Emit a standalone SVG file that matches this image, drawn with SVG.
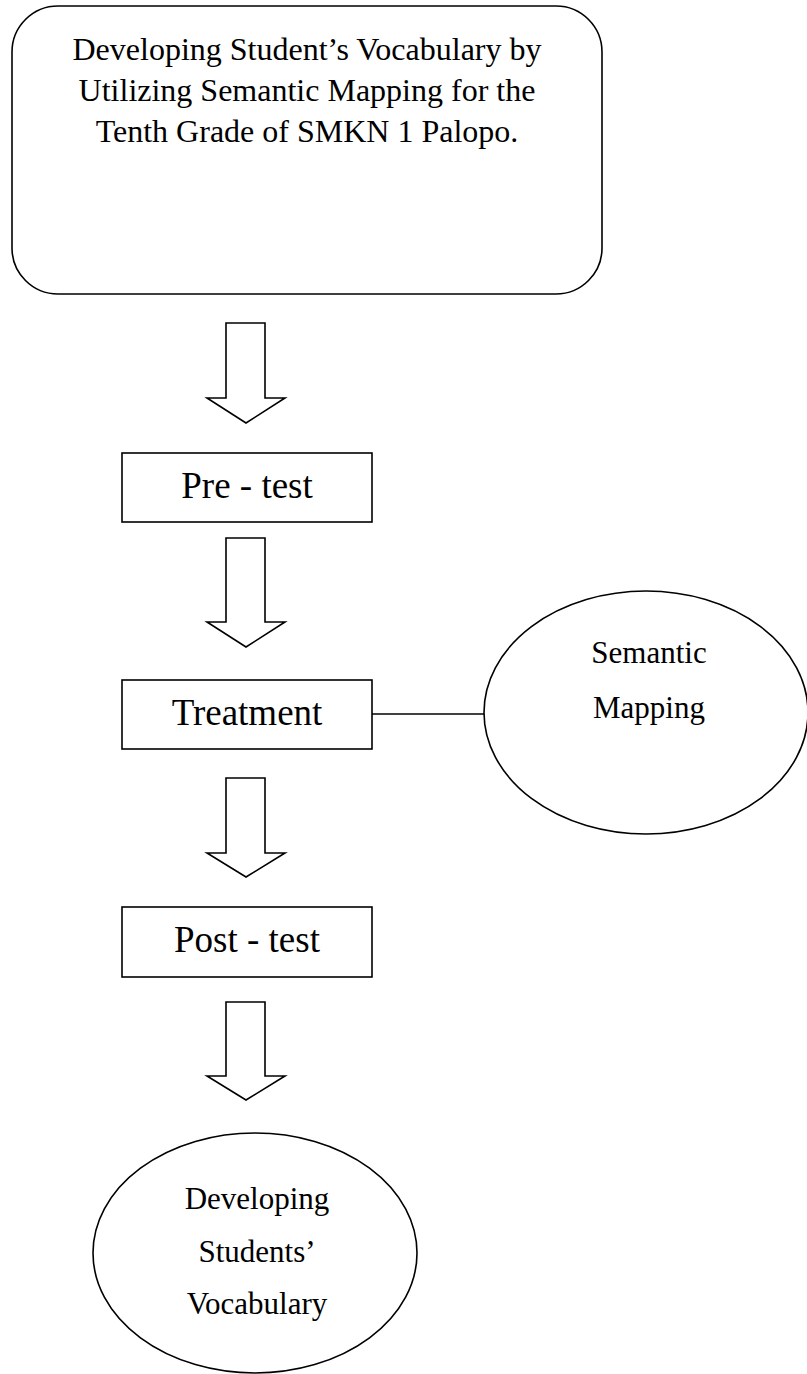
<svg xmlns="http://www.w3.org/2000/svg" width="807" height="1374" viewBox="0 0 807 1374">
  <style>
    .shape { fill: #ffffff; stroke: #000000; stroke-width: 1.6; }
    .arrow { fill: #ffffff; stroke: #000000; stroke-width: 1.6; stroke-linejoin: miter; }
    .link { fill: none; stroke: #000000; stroke-width: 1.6; }
    text { font-family: "Liberation Serif", "Times New Roman", serif; fill: #000000; text-anchor: middle; }
    .title { font-size: 32px; }
    .step { font-size: 37px; }
    .oval { font-size: 31px; }
  </style>
  <rect width="807" height="1374" fill="#ffffff"/>

  <!-- title -->
  <g id="title">
    <rect class="shape" x="12" y="6" width="590" height="288" rx="46" ry="46"/>
    <text class="title" x="307" y="60">Developing Student’s Vocabulary by</text>
    <text class="title" x="307" y="101">Utilizing Semantic Mapping for the</text>
    <text class="title" x="307" y="142">Tenth Grade of SMKN 1 Palopo.</text>
  </g>

  <!-- connectors: block arrows between steps and the side link -->
  <g id="connectors">
    <path class="arrow" d="M226,323 V398 H207 L246,423 L285,398 H265 V323 Z"/>
    <path class="arrow" d="M226,538 V622 H207 L246,647 L285,622 H265 V538 Z"/>
    <path class="arrow" d="M226,778 V853 H207 L246,877 L285,853 H265 V778 Z"/>
    <path class="arrow" d="M226,1002 V1076 H207 L246,1100 L285,1076 H265 V1002 Z"/>
    <line class="link" x1="372" y1="714" x2="484" y2="714"/>
  </g>

  <g id="pretest">
    <rect class="shape" x="122" y="453" width="250" height="69"/>
    <text class="step" x="247" y="498">Pre - test</text>
  </g>

  <g id="treatment">
    <rect class="shape" x="122" y="680" width="250" height="69"/>
    <text class="step" x="247" y="725">Treatment</text>
  </g>

  <g id="semantic-mapping">
    <ellipse class="shape" cx="646" cy="712.5" rx="162" ry="121.5"/>
    <text class="oval" x="649" y="663">Semantic</text>
    <text class="oval" x="649" y="718">Mapping</text>
  </g>

  <g id="posttest">
    <rect class="shape" x="122" y="907" width="250" height="70"/>
    <text class="step" x="247" y="952">Post - test</text>
  </g>

  <g id="outcome">
    <ellipse class="shape" cx="255" cy="1253" rx="162" ry="120"/>
    <text class="oval" x="257" y="1209">Developing</text>
    <text class="oval" x="257" y="1262">Students’</text>
    <text class="oval" x="257" y="1314">Vocabulary</text>
  </g>
</svg>
